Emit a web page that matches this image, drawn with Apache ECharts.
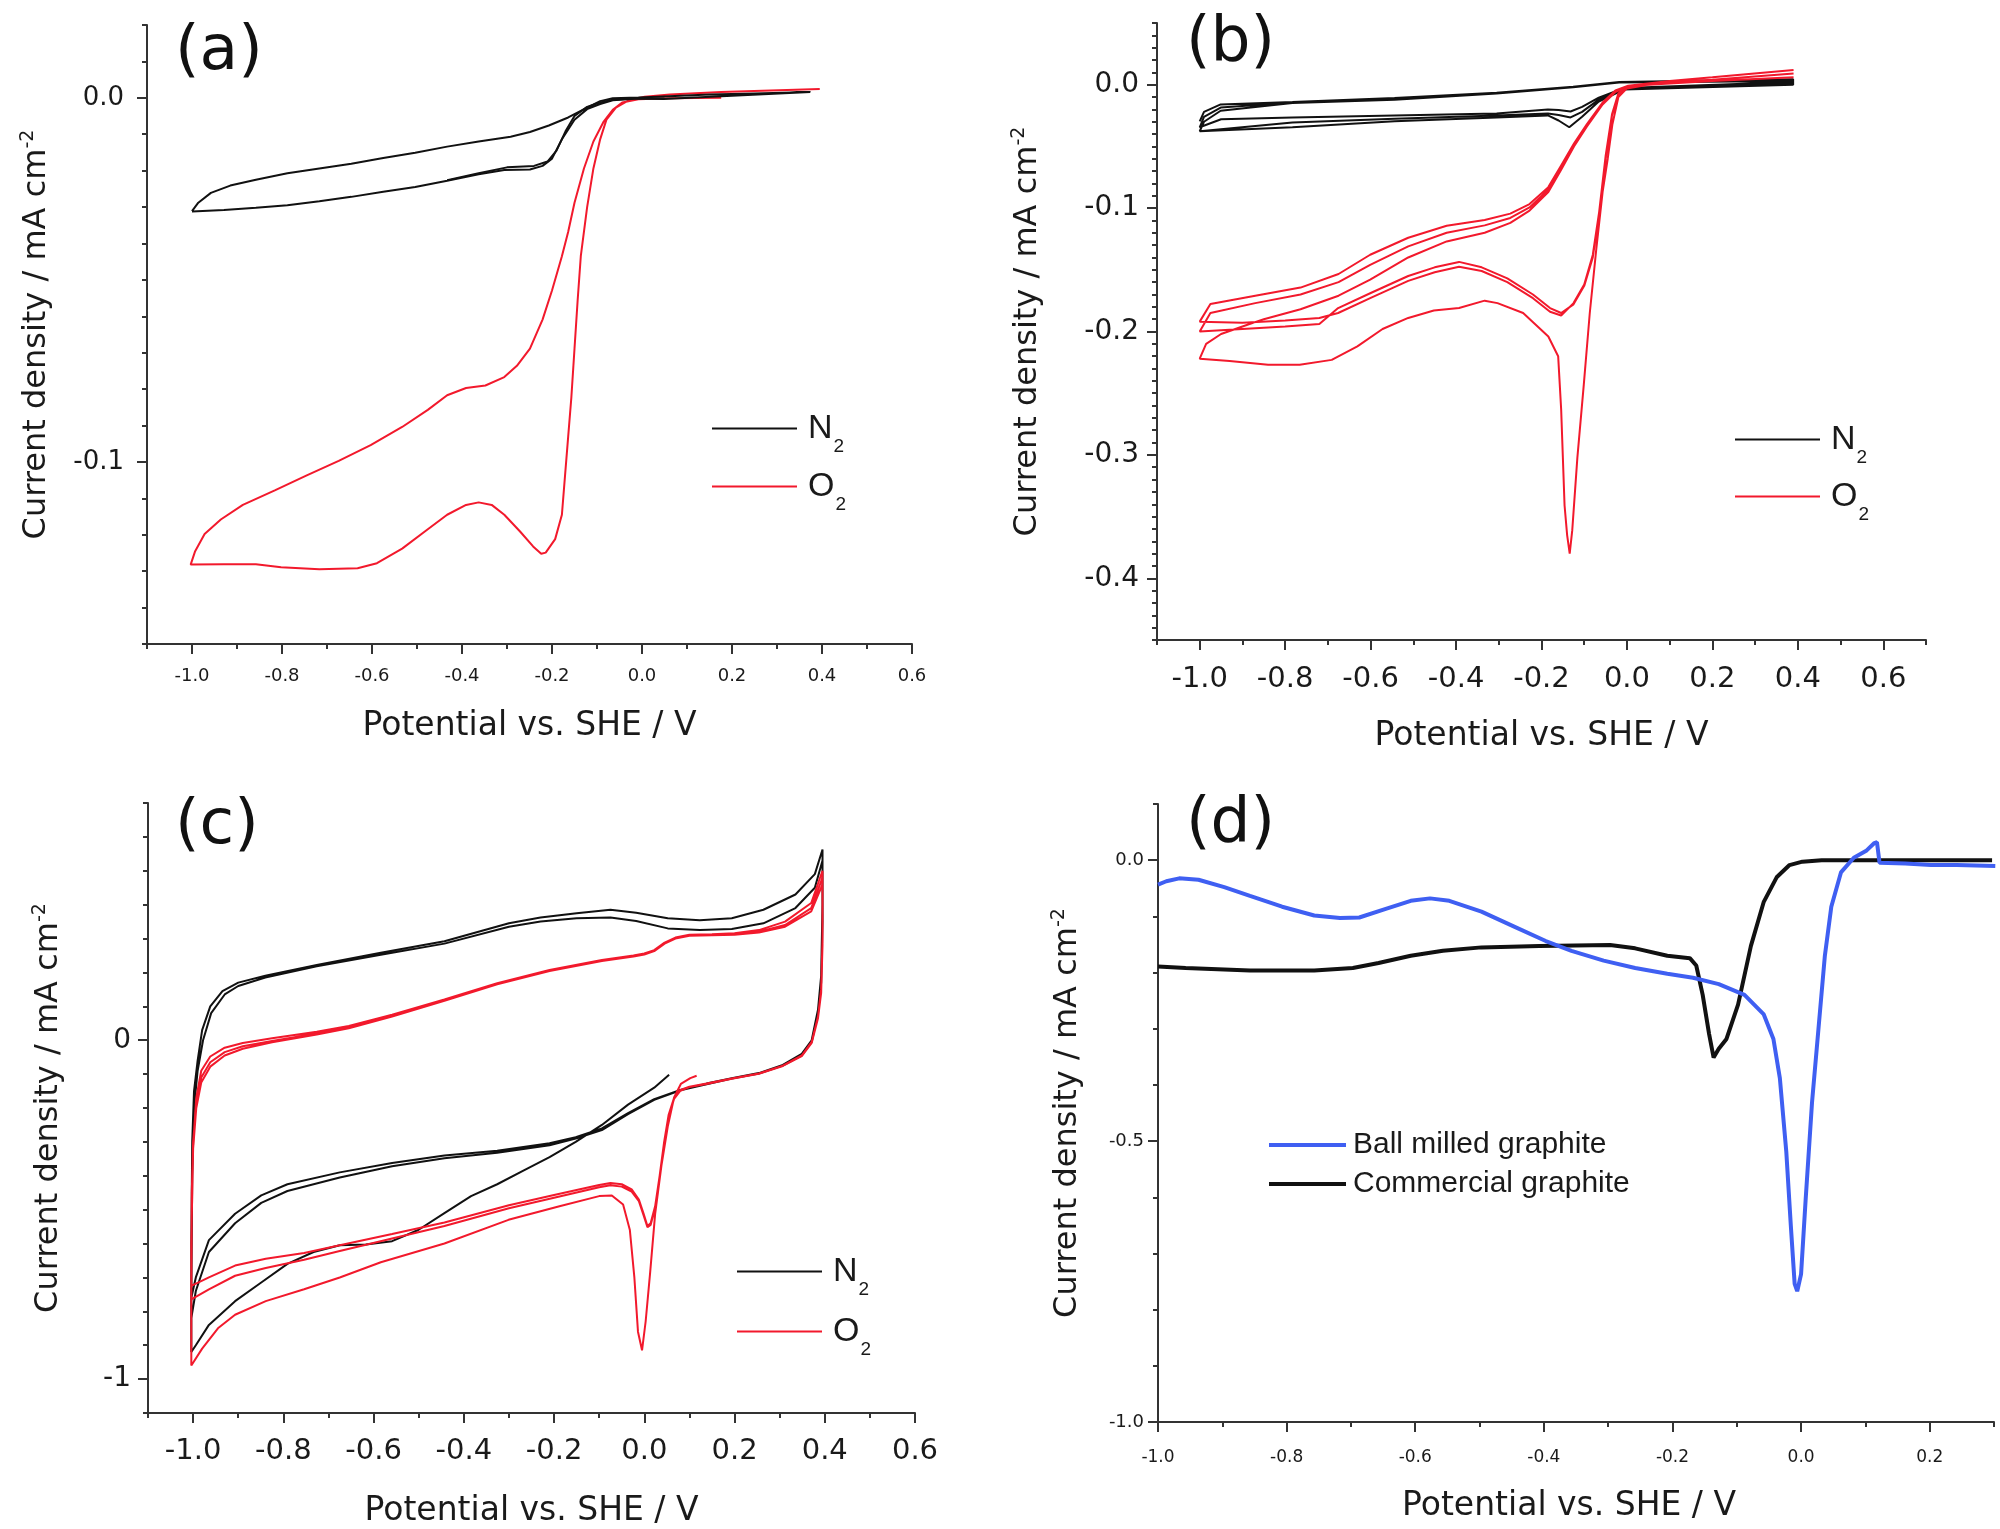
<!DOCTYPE html>
<html><head><meta charset="utf-8">
<script src="https://cdn.jsdelivr.net/npm/echarts@6.0.0/dist/echarts.min.js"></script>
<style>html,body{margin:0;padding:0;background:#fff}#c{width:2000px;height:1529px}</style>
</head><body><div id="c"></div>
<script>
// ---------------- tick label values ----------------
const xTicksAC = [-1.0,-0.8,-0.6,-0.4,-0.2,0.0,0.2,0.4,0.6];
const xTicksB  = [-1.0,-0.8,-0.6,-0.4,-0.2,0.0,0.2,0.4,0.6];
const xTicksD  = [-1.0,-0.8,-0.6,-0.4,-0.2,0.0,0.2];
const yTicksA  = [0.0,-0.1];
const yTicksB  = [0.0,-0.1,-0.2,-0.3,-0.4];
const yTicksC  = [0,-1];
const yTicksD  = [0.0,-0.5,-1.0];

// ---------------- panel (a) ----------------
const a_N2_fwd = [[-1.0,-0.0311],[-0.986,-0.0288],[-0.958,-0.0261],[-0.915,-0.0241],[-0.858,-0.0225],[-0.788,-0.0207],[-0.717,-0.0194],[-0.646,-0.0181],[-0.575,-0.0165],[-0.504,-0.0151],[-0.433,-0.0134],[-0.363,-0.0120],[-0.292,-0.0107],[-0.249,-0.0094],[-0.207,-0.0076],[-0.164,-0.0054],[-0.122,-0.0027],[-0.093,-0.0009],[-0.065,-0.0001],[-0.008,0.0001],[0.034,0.0003],[0.15,0.0009],[0.25,0.0012],[0.374,0.0016]];
const a_N2_rev1 = [[0.374,0.0014],[0.2,0.0006],[0.048,-0.0003],[-0.008,-0.0002],[-0.065,-0.0007],[-0.093,-0.0017],[-0.122,-0.0031],[-0.150,-0.0060],[-0.178,-0.0114],[-0.200,-0.0167],[-0.221,-0.0187],[-0.249,-0.0197],[-0.306,-0.0198],[-0.363,-0.0210],[-0.433,-0.0228],[-0.504,-0.0245],[-0.575,-0.0258],[-0.646,-0.0272],[-0.717,-0.0284],[-0.788,-0.0295],[-0.858,-0.0302],[-0.929,-0.0308],[-1.0,-0.0312]];
const a_N2_rev2 = [[0.05,-0.0002],[-0.008,-0.0001],[-0.065,-0.0005],[-0.093,-0.0013],[-0.122,-0.0025],[-0.150,-0.0050],[-0.170,-0.0092],[-0.190,-0.0145],[-0.210,-0.0175],[-0.240,-0.0187],[-0.300,-0.0191],[-0.363,-0.0207],[-0.433,-0.0226]];
const a_O2_rev = [[0.395,0.0024],[0.176,0.0016],[0.062,0.0009],[0.006,0.0003],[-0.030,-0.0007],[-0.058,-0.0027],[-0.079,-0.0060],[-0.093,-0.0114],[-0.108,-0.0194],[-0.122,-0.0301],[-0.136,-0.0435],[-0.143,-0.0556],[-0.150,-0.0689],[-0.157,-0.0823],[-0.164,-0.0930],[-0.171,-0.1037],[-0.178,-0.1145],[-0.193,-0.1212],[-0.214,-0.1249],[-0.224,-0.1252],[-0.242,-0.1232],[-0.271,-0.1191],[-0.306,-0.1145],[-0.334,-0.1118],[-0.363,-0.1111],[-0.391,-0.1118],[-0.433,-0.1145],[-0.476,-0.1185],[-0.533,-0.1238],[-0.589,-0.1278],[-0.632,-0.1292],[-0.717,-0.1295],[-0.802,-0.1289],[-0.858,-0.1281],[-0.929,-0.1281],[-1.003,-0.1282]];
const a_O2_fwd = [[-1.003,-0.1282],[-0.993,-0.1245],[-0.972,-0.1198],[-0.936,-0.1158],[-0.887,-0.1118],[-0.816,-0.1078],[-0.745,-0.1037],[-0.674,-0.0997],[-0.603,-0.0954],[-0.533,-0.0904],[-0.476,-0.0857],[-0.433,-0.0817],[-0.391,-0.0797],[-0.348,-0.0790],[-0.306,-0.0767],[-0.278,-0.0736],[-0.249,-0.0689],[-0.221,-0.0609],[-0.200,-0.0529],[-0.178,-0.0435],[-0.164,-0.0368],[-0.150,-0.0288],[-0.129,-0.0194],[-0.108,-0.0120],[-0.086,-0.0067],[-0.065,-0.0033],[-0.044,-0.0013],[-0.008,-0.0004],[0.062,-0.0001],[0.176,0.0]];

// ---------------- panel (b) ----------------
const b_N2_up1 = [[-1.0,-0.0297],[-0.99,-0.022],[-0.951,-0.0160],[-0.783,-0.0140],[-0.544,-0.0108],[-0.305,-0.0066],[-0.126,-0.0016],[-0.018,0.0022],[0.389,0.0045]];
const b_N2_dn1 = [[0.389,0.0022],[-0.006,-0.0026],[-0.066,-0.0105],[-0.105,-0.018],[-0.132,-0.0217],[-0.16,-0.0205],[-0.185,-0.0201],[-0.305,-0.0233],[-0.544,-0.0249],[-0.783,-0.0265],[-0.95,-0.028],[-1.0,-0.0345]];
const b_N2_up2 = [[-1.0,-0.0345],[-0.99,-0.026],[-0.951,-0.0185],[-0.783,-0.0145],[-0.544,-0.0118],[-0.305,-0.0070],[-0.126,-0.0018],[-0.018,0.002],[0.389,0.0035]];
const b_N2_dn2 = [[0.389,0.0013],[-0.006,-0.0032],[-0.066,-0.0121],[-0.105,-0.022],[-0.132,-0.0265],[-0.16,-0.0245],[-0.185,-0.0233],[-0.305,-0.0249],[-0.544,-0.0275],[-0.783,-0.0307],[-1.0,-0.0377]];
const b_N2_up3 = [[-1.0,-0.0377],[-0.99,-0.03],[-0.951,-0.0211],[-0.783,-0.0148],[-0.544,-0.0121],[-0.305,-0.0072],[-0.126,-0.002],[-0.018,0.0018],[0.389,0.003]];
const b_N2_dn3 = [[0.389,0.0],[-0.006,-0.0038],[-0.066,-0.0137],[-0.105,-0.026],[-0.135,-0.0345],[-0.16,-0.029],[-0.185,-0.0249],[-0.305,-0.0265],[-0.544,-0.0297],[-0.783,-0.0345],[-1.0,-0.0377]];
const b_O2_dn1 = [[0.39,0.006],[0.2,0.003],[0.05,0.0],[0.0,-0.003],[-0.02,-0.01],[-0.034,-0.032],[-0.045,-0.06],[-0.057,-0.087],[-0.072,-0.134],[-0.087,-0.185],[-0.101,-0.243],[-0.116,-0.302],[-0.128,-0.361],[-0.134,-0.38],[-0.14,-0.365],[-0.146,-0.341],[-0.154,-0.263],[-0.161,-0.22],[-0.184,-0.204],[-0.243,-0.185],[-0.303,-0.177],[-0.333,-0.175],[-0.393,-0.181],[-0.452,-0.183],[-0.512,-0.189],[-0.572,-0.198],[-0.631,-0.212],[-0.691,-0.223],[-0.766,-0.227],[-0.84,-0.227],[-0.93,-0.224],[-1.0,-0.222]];
const b_O2_up1 = [[-1.0,-0.222],[-0.985,-0.21],[-0.95,-0.202],[-0.9,-0.196],[-0.85,-0.19],[-0.764,-0.182],[-0.675,-0.171],[-0.601,-0.158],[-0.512,-0.14],[-0.422,-0.127],[-0.333,-0.12],[-0.273,-0.112],[-0.228,-0.102],[-0.184,-0.087],[-0.154,-0.069],[-0.124,-0.05],[-0.094,-0.034],[-0.057,-0.016],[-0.027,-0.006],[0.003,-0.001],[0.1,0.001],[0.2,0.003],[0.39,0.006]];
const b_O2_dn2 = [[0.39,0.006],[0.2,0.003],[0.05,0.0],[0.0,-0.003],[-0.02,-0.008],[-0.035,-0.025],[-0.05,-0.06],[-0.065,-0.105],[-0.08,-0.14],[-0.1,-0.163],[-0.125,-0.178],[-0.154,-0.185],[-0.18,-0.181],[-0.22,-0.17],[-0.28,-0.157],[-0.34,-0.148],[-0.393,-0.1436],[-0.45,-0.148],[-0.512,-0.155],[-0.601,-0.169],[-0.676,-0.181],[-0.72,-0.194],[-0.8,-0.196],[-0.9,-0.198],[-1.0,-0.2]];
const b_O2_up2 = [[-1.0,-0.2],[-0.975,-0.185],[-0.87,-0.177],[-0.764,-0.170],[-0.675,-0.160],[-0.601,-0.146],[-0.512,-0.131],[-0.422,-0.120],[-0.333,-0.114],[-0.273,-0.108],[-0.228,-0.0995],[-0.184,-0.085],[-0.154,-0.067],[-0.124,-0.049],[-0.094,-0.033],[-0.057,-0.015],[-0.027,-0.005],[0.003,-0.001],[0.1,0.002],[0.2,0.004],[0.39,0.009]];
const b_O2_dn3 = [[0.39,0.008],[0.2,0.004],[0.05,0.001],[0.0,-0.002],[-0.02,-0.007],[-0.035,-0.024],[-0.05,-0.058],[-0.065,-0.103],[-0.08,-0.138],[-0.1,-0.162],[-0.125,-0.177],[-0.154,-0.187],[-0.18,-0.184],[-0.22,-0.173],[-0.28,-0.16],[-0.34,-0.151],[-0.393,-0.1475],[-0.45,-0.152],[-0.512,-0.159],[-0.601,-0.173],[-0.676,-0.185],[-0.72,-0.189],[-0.8,-0.191],[-0.9,-0.193],[-1.0,-0.192]];
const b_O2_up3 = [[-1.0,-0.192],[-0.975,-0.1777],[-0.870,-0.171],[-0.764,-0.1644],[-0.675,-0.1534],[-0.601,-0.1378],[-0.512,-0.124],[-0.422,-0.1143],[-0.333,-0.1096],[-0.273,-0.1045],[-0.228,-0.0967],[-0.184,-0.083],[-0.154,-0.0654],[-0.124,-0.0477],[-0.094,-0.0321],[-0.057,-0.0145],[-0.027,-0.0047],[0.003,-0.0008],[0.1,0.003],[0.2,0.006],[0.39,0.012]];

// ---------------- panel (c) ----------------
const c_N2_init = [[0.055,-0.102],[0.022,-0.14],[-0.036,-0.19],[-0.094,-0.25],[-0.152,-0.30],[-0.21,-0.345],[-0.268,-0.385],[-0.326,-0.425],[-0.384,-0.46],[-0.443,-0.51],[-0.501,-0.56],[-0.559,-0.593],[-0.617,-0.603],[-0.675,-0.605],[-0.733,-0.625],[-0.791,-0.66],[-0.849,-0.715],[-0.907,-0.77],[-0.965,-0.84],[-0.994,-0.9],[-1.004,-0.92]];
const c_N2_up1 = [[-1.004,-0.92],[-1.004,-0.6],[-1.002,-0.3],[-0.998,-0.15],[-0.99,-0.06],[-0.98,0.03],[-0.962,0.10],[-0.935,0.145],[-0.9,0.17],[-0.84,0.19],[-0.726,0.222],[-0.584,0.258],[-0.443,0.292],[-0.3,0.345],[-0.23,0.362],[-0.15,0.375],[-0.075,0.385],[-0.018,0.376],[0.052,0.36],[0.123,0.354],[0.194,0.36],[0.264,0.385],[0.335,0.43],[0.378,0.49],[0.395,0.563]];
const c_N2_dn1 = [[0.395,0.563],[0.395,0.4],[0.392,0.19],[0.385,0.09],[0.371,0.0],[0.349,-0.04],[0.307,-0.073],[0.254,-0.097],[0.194,-0.112],[0.138,-0.128],[0.08,-0.147],[0.022,-0.174],[-0.036,-0.215],[-0.094,-0.26],[-0.152,-0.286],[-0.21,-0.304],[-0.326,-0.326],[-0.443,-0.34],[-0.559,-0.362],[-0.675,-0.39],[-0.791,-0.425],[-0.849,-0.458],[-0.907,-0.512],[-0.965,-0.59],[-0.994,-0.7],[-1.004,-0.76]];
const c_N2_up2 = [[-1.004,-0.76],[-1.002,-0.4],[-0.998,-0.2],[-0.99,-0.09],[-0.978,0.0],[-0.96,0.08],[-0.93,0.135],[-0.9,0.16],[-0.84,0.185],[-0.726,0.218],[-0.584,0.252],[-0.443,0.285],[-0.3,0.335],[-0.23,0.35],[-0.15,0.36],[-0.075,0.362],[-0.018,0.352],[0.052,0.33],[0.123,0.325],[0.194,0.328],[0.264,0.345],[0.335,0.39],[0.378,0.45],[0.395,0.53]];
const c_N2_dn2 = [[0.395,0.53],[0.395,0.35],[0.392,0.17],[0.385,0.08],[0.371,-0.005],[0.349,-0.045],[0.307,-0.075],[0.254,-0.098],[0.194,-0.113],[0.138,-0.13],[0.08,-0.148],[0.022,-0.176],[-0.036,-0.218],[-0.094,-0.265],[-0.152,-0.29],[-0.21,-0.31],[-0.326,-0.332],[-0.443,-0.348],[-0.559,-0.372],[-0.675,-0.405],[-0.791,-0.445],[-0.849,-0.48],[-0.907,-0.54],[-0.965,-0.625],[-0.994,-0.74],[-1.004,-0.82]];
const c_O2_init = [[0.116,-0.105],[0.102,-0.112],[0.081,-0.129],[0.066,-0.169],[0.052,-0.255],[0.038,-0.37],[0.024,-0.513],[0.013,-0.685],[0.003,-0.83],[-0.005,-0.915],[-0.014,-0.86],[-0.022,-0.7],[-0.032,-0.56],[-0.047,-0.485],[-0.072,-0.458],[-0.1,-0.46],[-0.188,-0.49],[-0.301,-0.53],[-0.443,-0.6],[-0.584,-0.655],[-0.675,-0.7],[-0.754,-0.735],[-0.839,-0.77],[-0.907,-0.81],[-0.945,-0.85],[-0.98,-0.91],[-1.004,-0.96]];
const c_O2_up1 = [[-1.004,-0.96],[-1.004,-0.6],[-1.0,-0.31],[-0.993,-0.17],[-0.982,-0.09],[-0.962,-0.048],[-0.93,-0.022],[-0.89,-0.008],[-0.825,0.006],[-0.726,0.025],[-0.655,0.042],[-0.559,0.075],[-0.443,0.12],[-0.326,0.168],[-0.21,0.207],[-0.094,0.237],[-0.024,0.25],[0.0,0.256],[0.022,0.266],[0.045,0.288],[0.069,0.303],[0.1,0.311],[0.15,0.313],[0.2,0.316],[0.254,0.325],[0.312,0.35],[0.37,0.405],[0.395,0.5]];
const c_O2_dn1 = [[0.395,0.5],[0.395,0.3],[0.392,0.15],[0.385,0.07],[0.371,-0.005],[0.349,-0.045],[0.307,-0.075],[0.254,-0.098],[0.194,-0.113],[0.138,-0.128],[0.1,-0.137],[0.08,-0.147],[0.066,-0.17],[0.054,-0.22],[0.044,-0.3],[0.034,-0.4],[0.024,-0.49],[0.014,-0.54],[0.007,-0.548],[-0.002,-0.51],[-0.012,-0.47],[-0.028,-0.44],[-0.05,-0.425],[-0.075,-0.421],[-0.1,-0.427],[-0.2,-0.457],[-0.3,-0.487],[-0.443,-0.538],[-0.559,-0.572],[-0.675,-0.605],[-0.754,-0.628],[-0.839,-0.645],[-0.907,-0.665],[-0.965,-0.7],[-1.004,-0.725]];
const c_O2_up2 = [[-1.004,-0.725],[-1.003,-0.45],[-1.0,-0.3],[-0.993,-0.19],[-0.982,-0.11],[-0.962,-0.065],[-0.93,-0.035],[-0.89,-0.018],[-0.825,-0.002],[-0.726,0.02],[-0.655,0.038],[-0.559,0.072],[-0.443,0.118],[-0.326,0.166],[-0.21,0.205],[-0.094,0.235],[-0.024,0.248],[0.0,0.254],[0.022,0.264],[0.045,0.286],[0.069,0.301],[0.1,0.309],[0.15,0.311],[0.2,0.313],[0.254,0.32],[0.312,0.34],[0.37,0.39],[0.395,0.48]];
const c_O2_dn2 = [[0.395,0.48],[0.395,0.28],[0.392,0.14],[0.385,0.065],[0.371,-0.008],[0.349,-0.047],[0.307,-0.076],[0.254,-0.099],[0.194,-0.114],[0.138,-0.129],[0.1,-0.138],[0.08,-0.149],[0.066,-0.173],[0.054,-0.225],[0.044,-0.305],[0.034,-0.405],[0.024,-0.495],[0.014,-0.545],[0.007,-0.552],[-0.002,-0.515],[-0.012,-0.475],[-0.028,-0.447],[-0.05,-0.432],[-0.075,-0.428],[-0.1,-0.434],[-0.2,-0.465],[-0.3,-0.496],[-0.443,-0.548],[-0.559,-0.585],[-0.675,-0.622],[-0.754,-0.648],[-0.839,-0.672],[-0.907,-0.695],[-0.965,-0.735],[-1.004,-0.765]];
const c_O2_up3 = [[-1.004,-0.765],[-1.003,-0.5],[-1.0,-0.32],[-0.993,-0.2],[-0.982,-0.125],[-0.962,-0.078],[-0.93,-0.045],[-0.89,-0.025],[-0.825,-0.006],[-0.726,0.017],[-0.655,0.035],[-0.559,0.07],[-0.443,0.116],[-0.326,0.165],[-0.21,0.204],[-0.094,0.234],[-0.024,0.247],[0.0,0.253],[0.022,0.263],[0.045,0.285],[0.069,0.3],[0.1,0.308],[0.15,0.31],[0.2,0.311],[0.254,0.318],[0.312,0.335],[0.37,0.38],[0.395,0.46]];

// ---------------- panel (d) ----------------
const d_ball = [[-1.0,-0.0436],[-0.987,-0.0375],[-0.967,-0.0323],[-0.937,-0.0349],[-0.897,-0.048],[-0.857,-0.0636],[-0.807,-0.0828],[-0.757,-0.0985],[-0.717,-0.1029],[-0.687,-0.102],[-0.647,-0.0872],[-0.607,-0.0724],[-0.577,-0.068],[-0.547,-0.0724],[-0.497,-0.0915],[-0.447,-0.1177],[-0.397,-0.1439],[-0.357,-0.1613],[-0.307,-0.1787],[-0.258,-0.1918],[-0.208,-0.2023],[-0.168,-0.2092],[-0.128,-0.2206],[-0.088,-0.2398],[-0.058,-0.2746],[-0.043,-0.3182],[-0.033,-0.388],[-0.023,-0.5187],[-0.016,-0.6495],[-0.010,-0.7541],[-0.006,-0.7672],[0.0,-0.7367],[0.007,-0.6059],[0.017,-0.4316],[0.027,-0.3008],[0.037,-0.17],[0.047,-0.0828],[0.062,-0.0218],[0.082,0.0044],[0.102,0.0174],[0.114,0.0305],[0.118,0.032],[0.122,-0.0044],[0.162,-0.006],[0.202,-0.0087],[0.242,-0.0087],[0.302,-0.0105]];
const d_comm = [[-1.0,-0.1892],[-0.957,-0.1918],[-0.857,-0.1962],[-0.757,-0.1962],[-0.697,-0.1918],[-0.657,-0.1831],[-0.607,-0.17],[-0.557,-0.1613],[-0.497,-0.1552],[-0.407,-0.1526],[-0.297,-0.1508],[-0.258,-0.1569],[-0.208,-0.17],[-0.173,-0.1744],[-0.163,-0.1874],[-0.153,-0.2398],[-0.143,-0.3095],[-0.136,-0.3513],[-0.128,-0.3357],[-0.116,-0.3182],[-0.098,-0.2572],[-0.078,-0.1526],[-0.058,-0.0741],[-0.038,-0.0305],[-0.018,-0.0087],[0.002,-0.0026],[0.032,0.0],[0.297,0.0]];

// ---------------- styling / layout ----------------
const AX = '#333333', TXT = '#1a1a1a', FONT = 'DejaVu Sans', LFONT = 'Liberation Sans';
const RED = '#f2192c', BLK = '#111111', BLUE = '#3f5ff2';
const grids = [
  {left:147, top:25, width:765, height:619},
  {left:1157, top:23, width:769, height:617},
  {left:148, top:803, width:767, height:617},
  {left:1158, top:804, width:836, height:618}
];
const f1 = v => (Math.abs(v) < 1e-9 ? 0 : v).toFixed(1);
const f0 = v => (Math.abs(v) < 1e-9 ? 0 : v).toFixed(0);
const xSpec = [
  {min:-1.1, max:0.6, minor:0.1, majors:xTicksAC, fmt:f1, fs:18, margin:23, gap:66, pad:[0,0,0,0]},
  {min:-1.1, max:0.7, minor:0.1, majors:xTicksB,  fmt:f1, fs:29, margin:25, gap:80, pad:[0,0,0,0]},
  {min:-1.1, max:0.6, minor:0.1, majors:xTicksAC, fmt:f1, fs:29, margin:24, gap:82, pad:[0,0,0,0]},
  {min:-1.0, max:0.3, minor:0.1, majors:xTicksD,  fmt:f1, fs:17, margin:27, gap:68, pad:[0,14,0,0]}
];
const ySpec = [
  {min:-0.15, max:0.02, minor:0.01, majors:yTicksA, fmt:f1, fs:26, margin:23, gap:94},
  {min:-0.45, max:0.05, minor:0.01, majors:yTicksB, fmt:f1, fs:28, margin:18, gap:113},
  {min:-1.1, max:0.7, minor:0.1, majors:yTicksC, fmt:f0, fs:28, margin:17, gap:83},
  {min:-1.0, max:0.1, minor:0.1, majors:yTicksD, fmt:f1, fs:18, margin:14, gap:74}
];
const xName = 'Potential vs. SHE / V';
const yName = '{t|Current density / mA cm}{p|-2}';
function axes(dim, g, s) {
  const pos = dim === 'x' ? 'bottom' : 'left';
  const isY = dim === 'y';
  const main = {
    type:'value', gridIndex:g, position:pos, min:s.min, max:s.max, interval:s.minor,
    axisLine:{show:true, onZero:false, lineStyle:{color:AX, width:2}},
    axisTick:{show:true, length:5, lineStyle:{color:AX, width:2}},
    axisLabel:{show:true, customValues:s.majors, formatter:s.fmt, fontFamily:FONT, fontSize:s.fs, color:TXT, margin:s.margin},
    splitLine:{show:false},
    name: isY ? yName : xName, nameLocation:'middle', nameGap:s.gap, nameRotate: isY ? 90 : 0,
    nameMoveOverlap:false,
    nameTextStyle: isY ? {rich:{
        t:{fontFamily:FONT, fontSize:32, color:TXT, lineHeight:34, padding:[10,0,0,0], verticalAlign:'bottom'},
        p:{fontFamily:FONT, fontSize:19, color:TXT, lineHeight:20, verticalAlign:'top'}}}
      : {fontFamily:FONT, fontSize:33, color:TXT, padding:s.pad}
  };
  const major = {
    type:'value', gridIndex:g, position:pos, min:s.min, max:s.max,
    axisLine:{show:false, onZero:false}, axisLabel:{show:false}, splitLine:{show:false},
    axisTick:{show:true, customValues:s.majors, length:10, lineStyle:{color:AX, width:2}}
  };
  return [main, major];
}
const xAxis = [], yAxis = [];
for (let g = 0; g < 4; g++) { xAxis.push(...axes('x', g, xSpec[g])); yAxis.push(...axes('y', g, ySpec[g])); }

function line(name, g, data, color, width) {
  return {type:'line', name, xAxisIndex:2*g, yAxisIndex:2*g, data, showSymbol:false, symbol:'none',
    lineStyle:{color, width}, itemStyle:{color}, emphasis:{disabled:true}, silent:true, clip:true};
}
const series = [
  line('O2a', 0, [...a_O2_rev, ...a_O2_fwd], RED, 2),
  line('N2a', 0, [...a_N2_fwd, ...a_N2_rev1], BLK, 2),
  line('N2a', 0, a_N2_rev2, BLK, 2),
  line('N2b', 1, [...b_N2_up1, ...b_N2_dn1, ...b_N2_up2, ...b_N2_dn2, ...b_N2_up3, ...b_N2_dn3], BLK, 2),
  line('O2b', 1, [...b_O2_dn1, ...b_O2_up1, ...b_O2_dn2, ...b_O2_up2, ...b_O2_dn3, ...b_O2_up3], RED, 2),
  line('N2c', 2, [...c_N2_init, ...c_N2_up1, ...c_N2_dn1, ...c_N2_up2, ...c_N2_dn2], BLK, 2),
  line('O2c', 2, [...c_O2_init, ...c_O2_up1, ...c_O2_dn1, ...c_O2_up2, ...c_O2_dn2, ...c_O2_up3], RED, 2),
  line('Commercial graphite', 3, d_comm, BLK, 4),
  line('Ball milled graphite', 3, d_ball, BLUE, 4)
];

const subLabel = {N2a:'{n|N}{s|2}', O2a:'{n|O}{s|2}', N2b:'{n|N}{s|2}', O2b:'{n|O}{s|2}', N2c:'{n|N}{s|2}', O2c:'{n|O}{s|2}'};
const subRich = {
  n:{fontFamily:LFONT, fontSize:34, color:TXT, lineHeight:34, padding:[0,0,0,6]},
  s:{fontFamily:LFONT, fontSize:19, color:TXT, lineHeight:19, padding:[36,0,0,1]}
};
function gasLegend(name, left, lineY) {
  return {show:true, left, top:lineY - 28, padding:0, orient:'horizontal', icon:'rect', itemWidth:85, itemHeight:2,
    data:[name], selectedMode:false, formatter: n => subLabel[n], textStyle:{rich:subRich}};
}
function matLegend(name, left, lineY) {
  return {show:true, left, top:lineY - 13, padding:0, orient:'horizontal', icon:'rect', itemWidth:77, itemHeight:4,
    data:[name], selectedMode:false, formatter: n => '{m|' + n + '}',
    textStyle:{rich:{m:{fontFamily:LFONT, fontSize:30, color:TXT, lineHeight:34, padding:[0,0,0,2]}}}};
}
const legend = [
  gasLegend('N2a', 712, 429), gasLegend('O2a', 712, 487),
  gasLegend('N2b', 1735, 440), gasLegend('O2b', 1735, 497),
  gasLegend('N2c', 737, 1272), gasLegend('O2c', 737, 1332),
  matLegend('Ball milled graphite', 1269, 1143), matLegend('Commercial graphite', 1269, 1182)
];
const tStyle = {fontFamily:FONT, fontSize:63, fontWeight:'normal', color:'#111'};
const title = [
  {text:'(a)', left:175, top:21, padding:0, textStyle:tStyle},
  {text:'(b)', left:1186, top:12, padding:0, textStyle:tStyle},
  {text:'(c)', left:175, top:795, padding:0, textStyle:tStyle},
  {text:'(d)', left:1186, top:793, padding:0, textStyle:tStyle}
];

const chart = echarts.init(document.getElementById('c'), null, {renderer:'canvas', width:2000, height:1529});
chart.setOption({backgroundColor:'#ffffff', animation:false, title, legend, grid:grids, xAxis, yAxis, series, tooltip:{show:false}});
</script></body></html>
